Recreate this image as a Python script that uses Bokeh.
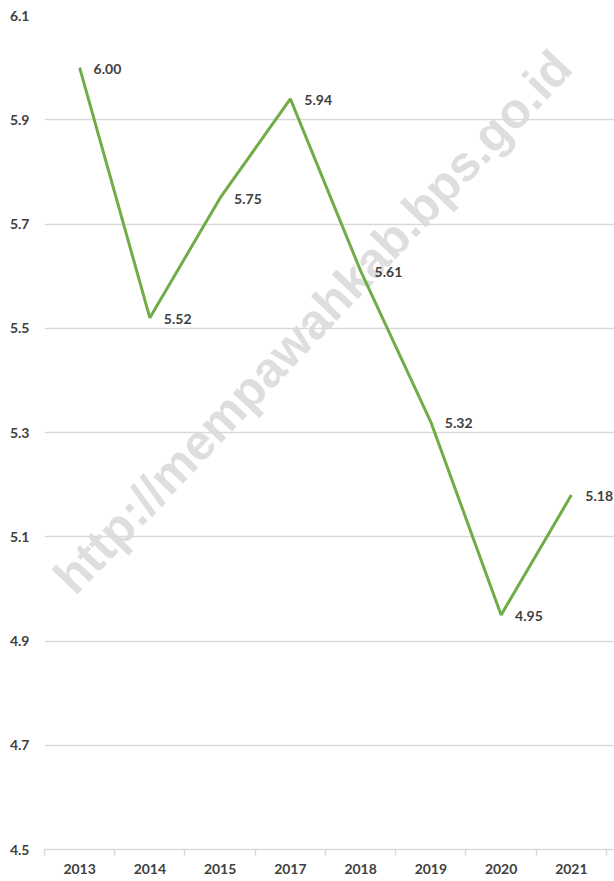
from bokeh.plotting import figure
from bokeh.models import ColumnDataSource, Range1d, FixedTicker, LabelSet, Label
from bokeh.core.properties import value
from bokeh.embed import file_html
from bokeh.resources import INLINE

years = ["2013", "2014", "2015", "2017", "2018", "2019", "2020", "2021"]
values = [6.00, 5.52, 5.75, 5.94, 5.61, 5.32, 4.95, 5.18]
value_labels = ["6.00", "5.52", "5.75", "5.94", "5.61", "5.32", "4.95", "5.18"]
y_ticks = [4.5, 4.7, 4.9, 5.1, 5.3, 5.5, 5.7, 5.9, 6.1]
watermark = "http://mempawahkab.bps.go.id"

FONT = "Lato"
TXT = "#404040"

xpos = [i + 0.5 for i in range(len(years))]
src = ColumnDataSource(dict(x=xpos, y=values, lab=value_labels, year=years))

p = figure(width=614, height=878, output_backend="svg", toolbar_location=None,
           x_range=Range1d(0, len(years) + 0.114), y_range=Range1d(y_ticks[0], y_ticks[-1]),
           min_border_left=44, min_border_right=0, min_border_top=15, min_border_bottom=29)
p.outline_line_color = None
p.background_fill_color = "white"

# watermark
wm = Label(x=3.815, y=5.513, text=watermark, angle=46.5, angle_units="deg",
           text_align="center", text_baseline="alphabetic",
           text_font="Liberation Sans", text_font_style="bold", text_font_size="49.5px",
           text_color="#dadada", text_alpha=0.9, level="underlay")
p.add_layout(wm)

p.line("x", "y", source=src, line_color="#70ad47", line_width=3)

labels = LabelSet(x="x", y="y", text="lab", source=src, x_offset=14, y_offset=-1,
                  text_align="left", text_baseline="middle", text_font=value(FONT),
                  text_font_style="bold", text_font_size="14px", text_color=TXT)
p.add_layout(labels)

# y axis
p.yaxis.ticker = FixedTicker(ticks=y_ticks)
p.yaxis.major_label_overrides = {t: f"{t:.1f}" for t in y_ticks}
p.yaxis.axis_line_color = None
p.yaxis.major_tick_line_color = None
p.yaxis.minor_tick_line_color = None
p.yaxis.major_tick_out = 0
p.yaxis.major_tick_in = 0
p.yaxis.major_label_standoff = 15
p.yaxis.major_label_text_font = FONT
p.yaxis.major_label_text_font_style = "bold"
p.yaxis.major_label_text_font_size = "14px"
p.yaxis.major_label_text_color = TXT
p.ygrid.ticker = FixedTicker(ticks=y_ticks)
p.ygrid.grid_line_color = "#d9d9d9"
p.ygrid.grid_line_width = 1.5

# x axis: labels at category centers, ticks at boundaries
p.xaxis.ticker = FixedTicker(ticks=xpos, minor_ticks=list(range(len(years) + 1)))
p.xaxis.major_label_overrides = {x: y for x, y in zip(xpos, years)}
p.xaxis.axis_line_color = "#d9d9d9"
p.xaxis.axis_line_width = 1.5
p.xaxis.major_tick_line_color = None
p.xaxis.major_tick_out = 0
p.xaxis.major_tick_in = 0
p.xaxis.minor_tick_line_color = "#d9d9d9"
p.xaxis.minor_tick_line_width = 1.5
p.xaxis.minor_tick_out = 6
p.xaxis.minor_tick_in = 0
p.xaxis.major_label_standoff = 8
p.xaxis.major_label_text_font = FONT
p.xaxis.major_label_text_font_style = "bold"
p.xaxis.major_label_text_font_size = "14px"
p.xaxis.major_label_text_color = TXT
p.xgrid.grid_line_color = None

open("out.html", "w").write(file_html(p, INLINE))
